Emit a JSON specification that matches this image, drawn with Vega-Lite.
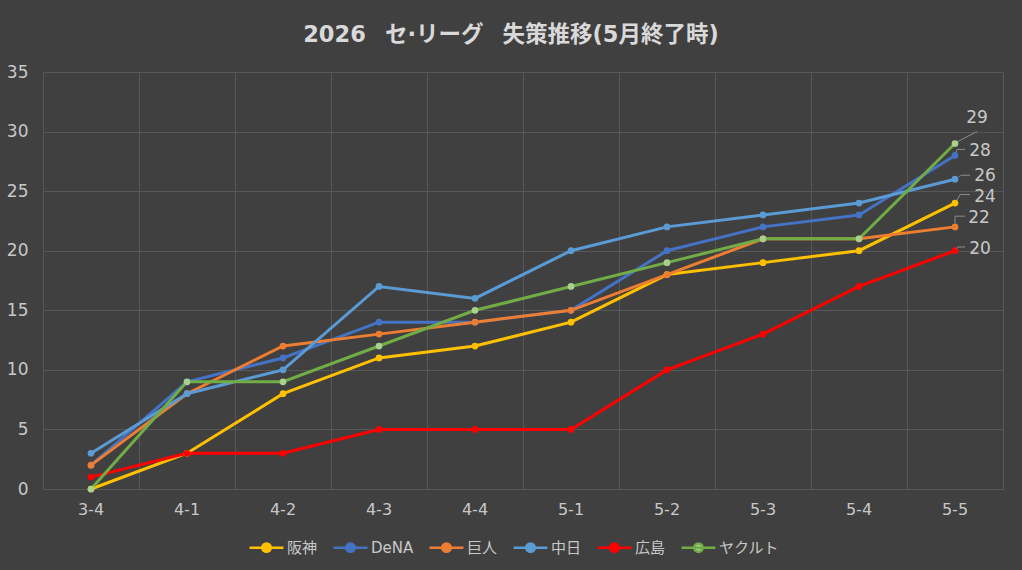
{
  "$schema": "https://vega.github.io/schema/vega-lite/v6.json",
  "width": 960,
  "height": 417,
  "autosize": {"type": "none"},
  "padding": {"left": 43, "top": 72, "right": 19, "bottom": 81},
  "background": "#404040",
  "config": {
    "font": "DejaVu Sans, Noto Sans CJK JP",
    "view": {"stroke": "#595959", "strokeWidth": 1}
  },
  "title": {
    "text": "2026\u2002\u00a0セ·リーグ\u2002\u00a0失策推移(5月終了時)",
    "fontSize": 22.5,
    "fontWeight": "bold",
    "color": "#d9d9d9",
    "anchor": "middle",
    "dx": -12,
    "offset": 17,
    "font": "DejaVu Sans, Noto Sans CJK JP"
  },
  "data": {
    "values": [
      {"t": "阪神", "c": "3-4", "v": 0}, {"t": "阪神", "c": "4-1", "v": 3}, {"t": "阪神", "c": "4-2", "v": 8}, {"t": "阪神", "c": "4-3", "v": 11}, {"t": "阪神", "c": "4-4", "v": 12},
      {"t": "阪神", "c": "5-1", "v": 14}, {"t": "阪神", "c": "5-2", "v": 18}, {"t": "阪神", "c": "5-3", "v": 19}, {"t": "阪神", "c": "5-4", "v": 20}, {"t": "阪神", "c": "5-5", "v": 24},
      {"t": "DeNA", "c": "3-4", "v": 2}, {"t": "DeNA", "c": "4-1", "v": 9}, {"t": "DeNA", "c": "4-2", "v": 11}, {"t": "DeNA", "c": "4-3", "v": 14}, {"t": "DeNA", "c": "4-4", "v": 14},
      {"t": "DeNA", "c": "5-1", "v": 15}, {"t": "DeNA", "c": "5-2", "v": 20}, {"t": "DeNA", "c": "5-3", "v": 22}, {"t": "DeNA", "c": "5-4", "v": 23}, {"t": "DeNA", "c": "5-5", "v": 28},
      {"t": "巨人", "c": "3-4", "v": 2}, {"t": "巨人", "c": "4-1", "v": 8}, {"t": "巨人", "c": "4-2", "v": 12}, {"t": "巨人", "c": "4-3", "v": 13}, {"t": "巨人", "c": "4-4", "v": 14},
      {"t": "巨人", "c": "5-1", "v": 15}, {"t": "巨人", "c": "5-2", "v": 18}, {"t": "巨人", "c": "5-3", "v": 21}, {"t": "巨人", "c": "5-4", "v": 21}, {"t": "巨人", "c": "5-5", "v": 22},
      {"t": "中日", "c": "3-4", "v": 3}, {"t": "中日", "c": "4-1", "v": 8}, {"t": "中日", "c": "4-2", "v": 10}, {"t": "中日", "c": "4-3", "v": 17}, {"t": "中日", "c": "4-4", "v": 16},
      {"t": "中日", "c": "5-1", "v": 20}, {"t": "中日", "c": "5-2", "v": 22}, {"t": "中日", "c": "5-3", "v": 23}, {"t": "中日", "c": "5-4", "v": 24}, {"t": "中日", "c": "5-5", "v": 26},
      {"t": "広島", "c": "3-4", "v": 1}, {"t": "広島", "c": "4-1", "v": 3}, {"t": "広島", "c": "4-2", "v": 3}, {"t": "広島", "c": "4-3", "v": 5}, {"t": "広島", "c": "4-4", "v": 5},
      {"t": "広島", "c": "5-1", "v": 5}, {"t": "広島", "c": "5-2", "v": 10}, {"t": "広島", "c": "5-3", "v": 13}, {"t": "広島", "c": "5-4", "v": 17}, {"t": "広島", "c": "5-5", "v": 20},
      {"t": "ヤクルト", "c": "3-4", "v": 0}, {"t": "ヤクルト", "c": "4-1", "v": 9}, {"t": "ヤクルト", "c": "4-2", "v": 9}, {"t": "ヤクルト", "c": "4-3", "v": 12}, {"t": "ヤクルト", "c": "4-4", "v": 15},
      {"t": "ヤクルト", "c": "5-1", "v": 17}, {"t": "ヤクルト", "c": "5-2", "v": 19}, {"t": "ヤクルト", "c": "5-3", "v": 21}, {"t": "ヤクルト", "c": "5-4", "v": 21}, {"t": "ヤクルト", "c": "5-5", "v": 29}
    ]
  },
  "resolve": {"axis": {"x": "independent"}},
  "layer": [
    {
      "mark": {"type": "line", "strokeWidth": 3},
      "encoding": {
        "x": {
          "field": "c", "type": "ordinal",
          "scale": {"type": "band", "paddingInner": 0, "paddingOuter": 0, "domain": ["3-4","4-1","4-2","4-3","4-4","5-1","5-2","5-3","5-4","5-5"]},
          "axis": {"orient": "top", "grid": true, "gridColor": "#575757", "labels": false, "ticks": false, "domain": false, "bandPosition": 0, "title": null}
        },
        "y": {
          "field": "v", "type": "quantitative",
          "scale": {"domain": [0, 35], "nice": false},
          "axis": {"values": [0,5,10,15,20,25,30,35], "grid": true, "gridColor": "#575757", "ticks": false, "domain": false, "labelPadding": 15, "labelFontSize": 17, "labelColor": "#c8c8c8", "labelFont": "DejaVu Sans", "title": null}
        },
        "color": {
          "field": "t", "type": "nominal",
          "scale": {"domain": ["阪神","DeNA","巨人","中日","広島","ヤクルト"], "range": ["#FFC000","#4472C4","#ED7D31","#5B9BD5","#FF0000","#70AD47"]},
          "legend": {
            "orient": "none", "legendX": 205, "legendY": 457, "direction": "horizontal", "title": null,
            "symbolType": "M-1,0L1,0M0.25,0A0.25,0.25,0,1,1,-0.25,0A0.25,0.25,0,1,1,0.25,0",
            "symbolSize": 1150, "symbolStrokeWidth": 2.5,
            "labelColor": "#c8c8c8", "labelFontSize": 15, "labelFont": "DejaVu Sans, Noto Sans CJK JP", "labelOffset": 2, "columnPadding": 10,
            "encode": {"symbols": {"update": {"fill": {"scale": "color", "field": "value"}, "fillOpacity": {"value": 1}, "opacity": {"value": 1}}}}
          }
        },
        "order": {"field": "c"}
      }
    },
    {
      "mark": {"type": "point", "filled": true, "size": 45, "opacity": 1},
      "encoding": {
        "x": {"field": "c", "type": "ordinal", "axis": {"orient": "bottom", "grid": false, "ticks": false, "domain": false, "labelPadding": 12, "labelFontSize": 16, "labelColor": "#c8c8c8", "labelFont": "DejaVu Sans", "labelAngle": 0, "title": null}},
        "y": {"field": "v", "type": "quantitative"},
        "fill": {
          "field": "t", "type": "nominal",
          "scale": {"domain": ["阪神","DeNA","巨人","中日","広島","ヤクルト"], "range": ["#FFC000","#4472C4","#ED7D31","#5B9BD5","#FF0000","#A9D18E"]},
          "legend": null
        }
      }
    },
    {
      "transform": [{"filter": "datum.t === 'ヤクルト' && datum.c === '5-5'"}],
      "encoding": {"x": {"field": "c", "type": "ordinal", "axis": null}, "y": {"field": "v", "type": "quantitative"}},
      "layer": [
        {"mark": {"type": "rule", "color": "#8c8c8c", "strokeWidth": 1, "xOffset": 3, "yOffset": -2, "x2Offset": 22, "y2Offset": -12}, "encoding": {"x2": {"field": "c"}, "y2": {"field": "v"}}},
        {"mark": {"type": "text", "dx": 22, "dy": -25, "fontSize": 17, "color": "#c8c8c8", "font": "DejaVu Sans"}, "encoding": {"text": {"field": "v"}}}
      ]
    },
    {
      "transform": [{"filter": "datum.t === 'DeNA' && datum.c === '5-5'"}],
      "encoding": {"x": {"field": "c", "type": "ordinal", "axis": null}, "y": {"field": "v", "type": "quantitative"}},
      "layer": [
        {"mark": {"type": "rule", "color": "#8c8c8c", "strokeWidth": 1, "xOffset": 1, "yOffset": -3, "x2Offset": 2, "y2Offset": -6}, "encoding": {"x2": {"field": "c"}, "y2": {"field": "v"}}},
        {"mark": {"type": "rule", "color": "#8c8c8c", "strokeWidth": 1, "xOffset": 2, "yOffset": -6, "x2Offset": 10, "y2Offset": -6}, "encoding": {"x2": {"field": "c"}, "y2": {"field": "v"}}},
        {"mark": {"type": "text", "dx": 25, "dy": -4, "fontSize": 17, "color": "#c8c8c8", "font": "DejaVu Sans"}, "encoding": {"text": {"field": "v"}}}
      ]
    },
    {
      "transform": [{"filter": "datum.t === '中日' && datum.c === '5-5'"}],
      "encoding": {"x": {"field": "c", "type": "ordinal", "axis": null}, "y": {"field": "v", "type": "quantitative"}},
      "layer": [
        {"mark": {"type": "rule", "color": "#8c8c8c", "strokeWidth": 1, "xOffset": 4, "yOffset": -2, "x2Offset": 6, "y2Offset": -4}, "encoding": {"x2": {"field": "c"}, "y2": {"field": "v"}}},
        {"mark": {"type": "rule", "color": "#8c8c8c", "strokeWidth": 1, "xOffset": 6, "yOffset": -4, "x2Offset": 15, "y2Offset": -4}, "encoding": {"x2": {"field": "c"}, "y2": {"field": "v"}}},
        {"mark": {"type": "text", "dx": 30, "dy": -3, "fontSize": 17, "color": "#c8c8c8", "font": "DejaVu Sans"}, "encoding": {"text": {"field": "v"}}}
      ]
    },
    {
      "transform": [{"filter": "datum.t === '阪神' && datum.c === '5-5'"}],
      "encoding": {"x": {"field": "c", "type": "ordinal", "axis": null}, "y": {"field": "v", "type": "quantitative"}},
      "layer": [
        {"mark": {"type": "rule", "color": "#8c8c8c", "strokeWidth": 1, "xOffset": 2, "yOffset": -3, "x2Offset": 5, "y2Offset": -8.5}, "encoding": {"x2": {"field": "c"}, "y2": {"field": "v"}}},
        {"mark": {"type": "rule", "color": "#8c8c8c", "strokeWidth": 1, "xOffset": 5, "yOffset": -8.5, "x2Offset": 15, "y2Offset": -8.5}, "encoding": {"x2": {"field": "c"}, "y2": {"field": "v"}}},
        {"mark": {"type": "text", "dx": 30, "dy": -6, "fontSize": 17, "color": "#c8c8c8", "font": "DejaVu Sans"}, "encoding": {"text": {"field": "v"}}}
      ]
    },
    {
      "transform": [{"filter": "datum.t === '巨人' && datum.c === '5-5'"}],
      "encoding": {"x": {"field": "c", "type": "ordinal", "axis": null}, "y": {"field": "v", "type": "quantitative"}},
      "layer": [
        {"mark": {"type": "rule", "color": "#8c8c8c", "strokeWidth": 1, "xOffset": 0, "yOffset": -3.5, "x2Offset": 0, "y2Offset": -10.7}, "encoding": {"x2": {"field": "c"}, "y2": {"field": "v"}}},
        {"mark": {"type": "rule", "color": "#8c8c8c", "strokeWidth": 1, "xOffset": 0, "yOffset": -10.7, "x2Offset": 10, "y2Offset": -10.7}, "encoding": {"x2": {"field": "c"}, "y2": {"field": "v"}}},
        {"mark": {"type": "text", "dx": 24, "dy": -9, "fontSize": 17, "color": "#c8c8c8", "font": "DejaVu Sans"}, "encoding": {"text": {"field": "v"}}}
      ]
    },
    {
      "transform": [{"filter": "datum.t === '広島' && datum.c === '5-5'"}],
      "encoding": {"x": {"field": "c", "type": "ordinal", "axis": null}, "y": {"field": "v", "type": "quantitative"}},
      "layer": [
        {"mark": {"type": "rule", "color": "#8c8c8c", "strokeWidth": 1, "xOffset": 1, "yOffset": -2, "x2Offset": 3, "y2Offset": -3.7}, "encoding": {"x2": {"field": "c"}, "y2": {"field": "v"}}},
        {"mark": {"type": "rule", "color": "#8c8c8c", "strokeWidth": 1, "xOffset": 3, "yOffset": -3.7, "x2Offset": 10, "y2Offset": -3.7}, "encoding": {"x2": {"field": "c"}, "y2": {"field": "v"}}},
        {"mark": {"type": "text", "dx": 25, "dy": -2, "fontSize": 17, "color": "#c8c8c8", "font": "DejaVu Sans"}, "encoding": {"text": {"field": "v"}}}
      ]
    }
  ]
}
